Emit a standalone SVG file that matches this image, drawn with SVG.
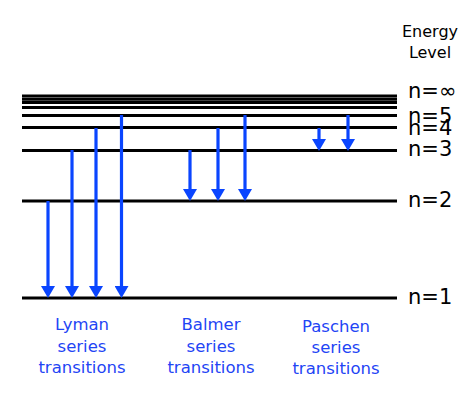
<svg xmlns="http://www.w3.org/2000/svg" width="474" height="407" viewBox="0 0 474 407">
<style>
.lvl{stroke:#000;stroke-width:3;fill:none}
.arr{stroke:#0a45ff;stroke-width:3.2;fill:none;marker-end:url(#ah)}
.lab{font-family:"DejaVu Sans",sans-serif;font-size:21px;fill:#000}
.ttl{font-family:"DejaVu Sans",sans-serif;font-size:16px;fill:#000;text-anchor:middle}
.ser{font-family:"DejaVu Sans",sans-serif;font-size:16.5px;fill:#1f45f5;text-anchor:middle}
</style>
<defs>
<marker id="ah" viewBox="0 0 12 14" markerWidth="12" markerHeight="14" refX="0" refY="7" orient="auto" markerUnits="userSpaceOnUse">
<path d="M0,0 L12,7 L0,14 z" fill="#0a45ff"/>
</marker>
</defs>
<rect width="474" height="407" fill="#fff"/>
<g id="title"><text class="ttl" x="430" y="37">Energy</text><text class="ttl" x="430" y="58">Level</text></g>
<g id="levels">
<g id="n-inf"><line class="lvl" x1="22" y1="96" x2="397" y2="96"/><line class="lvl" x1="22" y1="99.2" x2="397" y2="99.2"/><line class="lvl" x1="22" y1="102.4" x2="397" y2="102.4"/><line class="lvl" x1="22" y1="107.5" x2="397" y2="107.5"/><text class="lab" x="408" y="98">n=∞</text></g>
<g id="n5"><line class="lvl" x1="22" y1="115.5" x2="397" y2="115.5"/><text class="lab" x="408" y="123">n=5</text></g>
<g id="n4"><line class="lvl" x1="22" y1="127.5" x2="397" y2="127.5"/><text class="lab" x="408" y="135">n=4</text></g>
<g id="n3"><line class="lvl" x1="22" y1="150.5" x2="397" y2="150.5"/><text class="lab" x="408" y="156">n=3</text></g>
<g id="n2"><line class="lvl" x1="22" y1="201" x2="397" y2="201"/><text class="lab" x="408" y="207">n=2</text></g>
<g id="n1"><line class="lvl" x1="22" y1="298" x2="397" y2="298"/><text class="lab" x="408" y="304">n=1</text></g>
</g>
<g id="connectors">
<line class="arr" x1="48" y1="201" x2="48" y2="286"/>
<line class="arr" x1="72" y1="150" x2="72" y2="286"/>
<line class="arr" x1="96" y1="128" x2="96" y2="286"/>
<line class="arr" x1="121.5" y1="115" x2="121.5" y2="286"/>
<line class="arr" x1="190" y1="150" x2="190" y2="189"/>
<line class="arr" x1="218" y1="128" x2="218" y2="189"/>
<line class="arr" x1="245" y1="115" x2="245" y2="189"/>
<line class="arr" x1="319" y1="128" x2="319" y2="139"/>
<line class="arr" x1="348" y1="115" x2="348" y2="139"/>
</g>
<g id="lyman"><text class="ser" x="82" y="330">Lyman</text><text class="ser" x="82" y="352">series</text><text class="ser" x="82" y="373">transitions</text></g>
<g id="balmer"><text class="ser" x="211" y="330">Balmer</text><text class="ser" x="211" y="352">series</text><text class="ser" x="211" y="373">transitions</text></g>
<g id="paschen"><text class="ser" x="336" y="332">Paschen</text><text class="ser" x="336" y="353">series</text><text class="ser" x="336" y="374">transitions</text></g>
</svg>
